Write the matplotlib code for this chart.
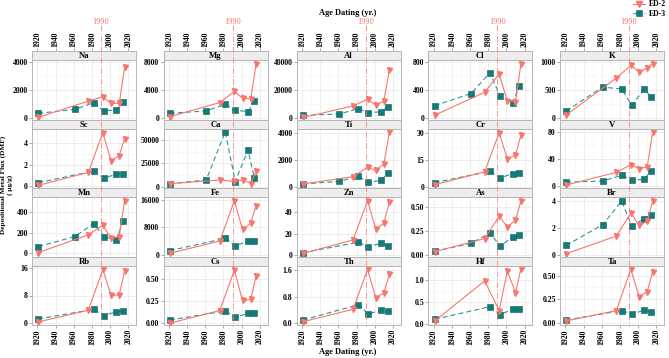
import matplotlib
matplotlib.use('Agg')
import matplotlib.pyplot as plt
import matplotlib.transforms as mtransforms
from matplotlib.lines import Line2D
import numpy as np

plt.rcParams['font.family'] = ['Liberation Serif', 'DejaVu Serif']
plt.rcParams['font.weight'] = 'bold'

# --- data -----------------------------------------------------------------
elements = ['Na', 'Mg', 'Al', 'Cl', 'K',
            'Sc', 'Ca', 'Ti', 'Cr', 'V',
            'Mn', 'Fe', 'Zn', 'As', 'Br',
            'Rb', 'Cs', 'Th', 'Hf', 'Ta']

years_ed2 = [1921, 1976, 1992, 2001, 2010, 2016]
years_ed3 = [1921, 1961, 1982, 1993, 2007, 2014]
nan = np.nan

ed2_flux = {
    'Na': [70, 1220, 1530, 1060, 1060, 3600],
    'Mg': [240, 2250, 3830, 2870, 2780, 7800],
    'Al': [500, 8700, 13400, 9300, 12000, 34500],
    'Cl': [43, 370, 630, 243, 238, 776],
    'K':  [60, 714, 940, 821, 893, 970],
    'Sc': [0.06, 1.28, 5.0, 2.37, 2.84, 4.44],
    'Ca': [3200, 7200, 5600, 7100, 3400, 16300],
    'Ti': [200, 750, 1450, 1225, 1700, 4075],
    'Cr': [1.3, 8.4, 30.2, 15.8, 17.7, 29.0],
    'V':  [1.5, 20, 31.4, 25.5, 28, 79],
    'Mn': [7, 180, 273, 146, 163, 514],
    'Fe': [400, 4000, 15800, 7400, 9200, 14350],
    'Zn': [1.5, 14, 51, 24.4, 29.7, 49.4],
    'As': [0.035, 0.17, 0.40, 0.29, 0.36, 0.56],
    'Br': [0.1, 1.4, 3.1, 2.2, 2.5, 4.0],
    'Rb': [0.4, 3.75, 15.5, 8.1, 8.1, 15.1],
    'Cs': [0.004, 0.146, 0.60, 0.26, 0.27, 0.54],
    'Th': [0.05, 0.42, 1.62, 0.77, 0.91, 1.47],
    'Hf': [0.06, 0.98, 0.30, 1.21, 0.71, 1.26],
    'Ta': [0.025, 0.133, 0.566, 0.28, 0.33, 0.54],
}

ed3_flux = {
    'Na': [350, 635, 1100, 540, 590, 1130],
    'Mg': [720, 1050, 2000, 1150, 960, 2400],
    'Al': [2000, 3000, 6800, 4000, 4500, 8000],
    'Cl': [180, 352, 648, 314, 224, 462],
    'K':  [130, 553, 518, 226, 524, 375],
    'Sc': [0.31, nan, 1.40, 0.72, 1.12, 1.12],
    'Ca': [3200, 7200, 59000, 5500, 39500, 9500],
    'Ti': [200, 400, 775, 325, 475, 1000],
    'Cr': [2.4, nan, 8.8, 5.0, 7.5, 7.8],
    'V':  [5.4, 7.4, 15.7, 8.8, 9.8, 22.6],
    'Mn': [65, 163, 290, 163, 130, 312],
    'Fe': [1170, nan, 4780, 2540, 3900, 3900],
    'Zn': [2.2, nan, 11.9, 7.8, 10.9, 8.75],
    'As': [0.04, 0.12, 0.23, 0.09, 0.19, 0.21],
    'Br': [0.72, 2.25, 4.0, 2.15, 2.7, 3.0],
    'Rb': [1.25, nan, 4.0, 2.2, 3.35, 3.45],
    'Cs': [0.04, nan, 0.14, 0.07, 0.115, 0.12],
    'Th': [0.10, nan, 0.56, 0.28, 0.40, 0.38],
    'Hf': [0.10, nan, 0.39, 0.21, 0.33, 0.34],
    'Ta': [0.035, nan, 0.133, 0.098, 0.136, 0.119],
}

y_ticks = {
    'Na': ([0, 2000, 4000], ['0', '2000', '4000']),
    'Mg': ([0, 4000, 8000], ['0', '4000', '8000']),
    'Al': ([0, 20000, 40000], ['0', '20000', '40000']),
    'Cl': ([0, 400, 800], ['0', '400', '800']),
    'K':  ([0, 500, 1000], ['0', '500', '1000']),
    'Sc': ([0, 2, 4], ['0', '2', '4']),
    'Ca': ([0, 25000, 50000], ['0', '25000', '50000']),
    'Ti': ([0, 2000, 4000], ['0', '2000', '4000']),
    'Cr': ([0, 15, 30], ['0', '15', '30']),
    'V':  ([0, 40, 80], ['0', '40', '80']),
    'Mn': ([0, 200, 400], ['0', '200', '400']),
    'Fe': ([0, 8000, 16000], ['0', '8000', '16000']),
    'Zn': ([0, 20, 40], ['0', '20', '40']),
    'As': ([0, 0.25, 0.5], ['0.00', '0.25', '0.50']),
    'Br': ([0, 2, 4], ['0', '2', '4']),
    'Rb': ([0, 8, 16], ['0', '8', '16']),
    'Cs': ([0, 0.25, 0.5], ['0.00', '0.25', '0.50']),
    'Th': ([0, 0.8, 1.6], ['0.0', '0.8', '1.6']),
    'Hf': ([0, 0.5, 1.0], ['0.0', '0.5', '1.0']),
    'Ta': ([0, 0.25, 0.5], ['0.00', '0.25', '0.50']),
}

y_limits = {
    'Na': (-120, 4130), 'Mg': (-245, 8330), 'Al': (-1300, 41400),
    'Cl': (-25, 830), 'K': (-32, 1035),
    'Sc': (-0.19, 5.34), 'Ca': (-1400, 61800), 'Ti': (-100, 4320),
    'Cr': (-0.6, 32.4), 'V': (-3, 84),
    'Mn': (-36, 549), 'Fe': (-700, 16900), 'Zn': (-1.9, 54.3),
    'As': (-0.02, 0.60), 'Br': (-0.15, 4.3),
    'Rb': (-0.5, 16.5), 'Cs': (-0.017, 0.647), 'Th': (-0.05, 1.72),
    'Hf': (-0.03, 1.32), 'Ta': (-0.018, 0.60),
}

x_ticks = [1920, 1940, 1960, 1980, 2000, 2020]
event_year = 1990

# --- styling --------------------------------------------------------------
W, H = 669, 358
red = '#F8766D'
teal = '#127C79'
teal_line = '#2F9692'
grid_c = '#EBEBEB'
border_c = '#B5B5B5'
fs = 5.6

col_left = [32, 163.5, 296.7, 428.3, 560]
panel_w = 104
strip_top = [51, 120, 188, 257]
strip_h = 9
panel_bottom = [120, 188, 257, 325]


def fx(px):
    return px / W


def fy(py):
    return 1 - py / H


fig = plt.figure(figsize=(W / 100, H / 100), dpi=100)

top_axes = []
for i, el in enumerate(elements):
    r, c = divmod(i, 5)
    left = col_left[c]
    ptop = strip_top[r] + strip_h
    pbot = panel_bottom[r]
    ax = fig.add_axes([fx(left), fy(pbot), panel_w / W, (pbot - ptop) / H])
    sax = fig.add_axes([fx(left), fy(ptop), panel_w / W, strip_h / H])

    # strip
    sax.set_facecolor('#EDEDED')
    sax.set_xlim(1914, 2028.5)
    sax.set_yticks([])
    sax.text(0.5, 0.45, el, transform=sax.transAxes, ha='center', va='center',
             fontsize=fs + 0.6, fontweight='bold')
    for s in sax.spines.values():
        s.set_color(border_c)
        s.set_linewidth(0.7)
    if r == 0:
        sax.xaxis.set_ticks_position('top')
        sax.set_xticks(x_ticks)
        sax.set_xticklabels([str(t) for t in x_ticks], rotation=90, fontsize=fs)
        sax.tick_params(axis='x', length=2, width=0.5, color='#888888', pad=1)
        top_axes.append(ax)
    else:
        sax.set_xticks([])

    # panel
    ax.set_xlim(1914, 2028.5)
    ax.set_ylim(*y_limits[el])
    ax.set_xticks(x_ticks)
    ax.set_xticks([1930, 1950, 1970, 1990, 2010], minor=True)
    ticks, labels = y_ticks[el]
    ax.set_yticks(ticks)
    ax.set_yticklabels(labels, fontsize=fs)
    mids = [(a + b) / 2 for a, b in zip(ticks[:-1], ticks[1:])]
    ax.set_yticks(mids, minor=True)
    ax.grid(True, which='major', color=grid_c, lw=0.6)
    ax.grid(True, which='minor', color='#F4F4F4', lw=0.4)
    ax.set_axisbelow(True)
    ax.tick_params(axis='y', which='major', length=2, width=0.5,
                   color='#888888', pad=1)
    ax.tick_params(which='minor', length=0)
    if r == 3:
        ax.set_xticklabels([str(t) for t in x_ticks], rotation=90, fontsize=fs)
        ax.tick_params(axis='x', which='major', length=2, width=0.5,
                       color='#888888', pad=1)
    else:
        ax.set_xticklabels([])
        ax.tick_params(axis='x', which='major', length=0)
    for s in ax.spines.values():
        s.set_color(border_c)
        s.set_linewidth(0.7)

    y2 = np.array(ed2_flux[el], dtype=float)
    y3 = np.array(ed3_flux[el], dtype=float)
    x3 = np.array(years_ed3, dtype=float)
    keep = ~np.isnan(y3)
    ax.plot(x3[keep], y3[keep], color=teal_line, lw=0.8,
            ls=(0, (4.5, 2.8)), zorder=2)
    ax.plot(x3[keep], y3[keep], ls='none', marker='s', ms=4.2,
            mfc=teal, mec='#0B5E5C', mew=0.4, zorder=3)
    ax.plot(years_ed2, y2, color=red, lw=0.8, marker='v', ms=3.6,
            mfc=red, mec=red, zorder=4)

# 1990 reference line across each column
for ax in top_axes:
    trans = mtransforms.blended_transform_factory(ax.transData, fig.transFigure)
    fig.add_artist(Line2D([event_year, event_year], [fy(25), fy(326)],
                          transform=trans, color=red, alpha=0.75, lw=0.7,
                          ls=(0, (6, 2, 1, 2))))
    fig.text(event_year, fy(22), str(event_year), transform=trans,
             ha='center', va='center', color=red, fontsize=fs + 0.4,
             fontweight='normal')

# axis titles
fig.text(fx(348), fy(13), 'Age Dating (yr.)', ha='center', va='center',
         fontsize=fs + 0.4, fontweight='bold')
fig.text(fx(348), fy(352), 'Age Dating (yr.)', ha='center', va='center',
         fontsize=fs + 0.4, fontweight='bold')
fig.text(fx(0.5), fy(185), 'Depositional Metal Flux (DMF)\n( \u03bcg/g)',
         rotation=90, ha='left', va='center', multialignment='center',
         fontsize=fs - 0.4, fontweight='bold', linespacing=1.15)

# legend
lx = 633
fig.add_artist(Line2D([fx(lx), fx(lx + 12)], [fy(4), fy(4)], color=red, lw=0.8))
fig.add_artist(Line2D([fx(lx + 6)], [fy(4)], ls='none', marker='v', ms=4,
                      mfc=red, mec=red))
fig.text(fx(lx + 16), fy(4.5), 'ED-2', ha='left', va='center', fontsize=fs)
fig.add_artist(Line2D([fx(lx), fx(lx + 12)], [fy(13), fy(13)], color=teal_line,
                      lw=0.8, ls=(0, (3, 2))))
fig.add_artist(Line2D([fx(lx + 6)], [fy(13)], ls='none', marker='s', ms=4.2,
                      mfc=teal, mec='#0B5E5C', mew=0.4))
fig.text(fx(lx + 16), fy(13.5), 'ED-3', ha='left', va='center', fontsize=fs)

fig.savefig('out.png', dpi=100)
